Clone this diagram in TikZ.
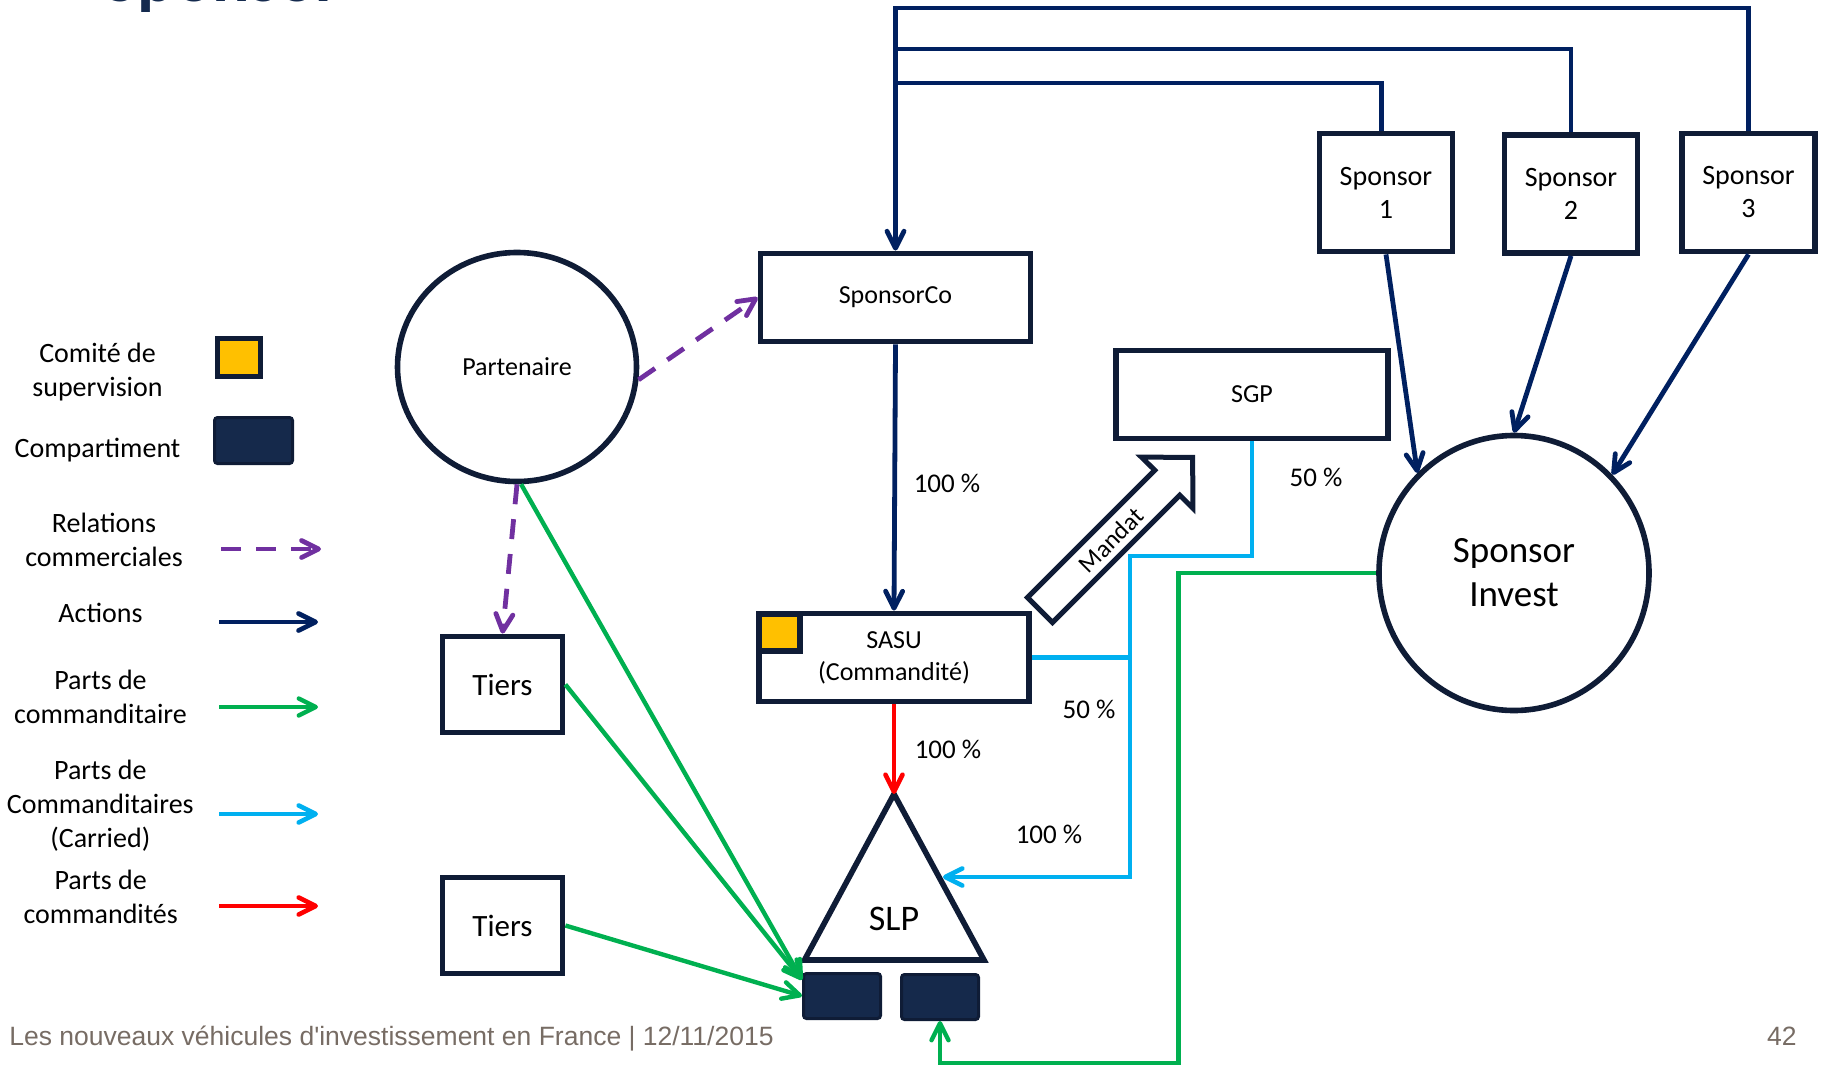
\documentclass[tikz,border=0pt]{standalone}
\usepackage{fontspec}
\setmainfont{Carlito}
\newfontfamily\footfont{Liberation Sans}
\usepackage{tikz}
\usetikzlibrary{arrows.meta,shapes.geometric}

\definecolor{navy}{HTML}{002060}
\definecolor{dkline}{HTML}{0F1C36}
\definecolor{titlenavy}{HTML}{142A4E}
\definecolor{compfill}{HTML}{15294B}
\definecolor{comyellow}{HTML}{FFC000}
\definecolor{lpgreen}{HTML}{00B050}
\definecolor{carblue}{HTML}{00B0F0}
\definecolor{gpred}{HTML}{FF0000}
\definecolor{relpurple}{HTML}{7030A0}
\definecolor{footgray}{HTML}{776C64}

\begin{document}
\begin{tikzpicture}[x=0.5pt, y=-0.5pt, >={Straight Barb[length=8.5pt,width=8.5pt,round]}]
  % Styles
  \tikzstyle{box}=[draw=dkline, line width=2.9pt, inner sep=0pt, minimum width=135pt, minimum height=44pt, font=\fontsize{13}{16}\selectfont, align=center]
  \tikzstyle{spbox}=[box, minimum width=66.5pt, minimum height=59pt, font=\fontsize{14}{16.5}\selectfont]
  \tikzstyle{tiers}=[box, minimum width=60pt, minimum height=48pt, font=\fontsize{15.5}{18}\selectfont]
  \tikzstyle{bubble}=[ellipse, draw=dkline, line width=2.8pt, inner sep=0pt, align=center]
  \tikzstyle{comite}=[draw=dkline, fill=comyellow, line width=2.6pt, inner sep=0pt, minimum width=21.5pt, minimum height=19pt]
  \tikzstyle{compart}=[draw=dkline, fill=compfill, line width=1.5pt, rounded corners=1.5pt, inner sep=0pt, minimum width=38.5pt, minimum height=22.5pt]
  \tikzstyle{lab}=[font=\fontsize{13.5}{16}\selectfont]
  \tikzstyle{leg}=[font=\fontsize{14}{17}\selectfont, align=center]
  \tikzstyle{rel}=[->, relpurple, line width=2.4pt, dash pattern=on 10pt off 7.5pt]
  \tikzstyle{act}=[->, navy, line width=2.4pt]
  \tikzstyle{lp}=[->, lpgreen, line width=2.2pt]
  \tikzstyle{carried}=[->, carblue, line width=2.3pt]
  \tikzstyle{gp}=[->, gpred, line width=2.3pt]

  \useasboundingbox (0,0) rectangle (1826,1066);
  \clip (0,0) rectangle (1826,1066);

  % Slide title, cut by the top edge
  \node[anchor=base west, inner sep=0pt, text=titlenavy, font=\fontsize{35}{40}\selectfont\bfseries] (title) at (104,1) {Sponsor};

  % Legend
  \node[leg] (lg1) at (97.5,372) {Comité de\\supervision};
  \node[comite] (lgc) at (239,357.5) {};
  \node[leg] (lg2) at (97.5,450) {Compartiment};
  \node[compart, minimum width=39pt, minimum height=23pt] (lgk) at (253.5,440.5) {};
  \node[leg] (lg3) at (104,540) {Relations\\commerciales};
  \node[leg] (lg4) at (100.5,613) {Actions};
  \node[leg] (lg5) at (100.5,697) {Parts de\\commanditaire};
  \node[leg] (lg6) at (100.3,806) {Parts de\\Commanditaires\\(Carried)};
  \node[leg] (lg7) at (100.7,897) {Parts de\\commandités};

  \coordinate (ls1) at (221,549); \coordinate (le1) at (321,549);
  \coordinate (ls2) at (219,622); \coordinate (le2) at (318,622);
  \coordinate (ls3) at (219,707); \coordinate (le3) at (318,707);
  \coordinate (ls4) at (219,814); \coordinate (le4) at (318,814);
  \coordinate (ls5) at (219,906); \coordinate (le5) at (318,906);
  \draw[rel] (ls1) -- (le1);
  \draw[act] (ls2) -- (le2);
  \draw[lp] (ls3) -- (le3);
  \draw[carried] (ls4) -- (le4);
  \draw[gp] (ls5) -- (le5);

  % Entities
  \node[bubble, minimum width=119.5pt, minimum height=114.5pt, font=\fontsize{13}{16}\selectfont] (part) at (517,367) {Partenaire};
  \node[box] (sco) at (895.5,297.5) {SponsorCo};
  \node[box, minimum width=136pt] (sgp) at (1252,394.5) {SGP};
  \node[box] (sasu) at (894,657.5) {SASU\\(Commandité)};
  \node[comite, minimum width=20.5pt, minimum height=18.5pt] (sasuc) at (779.5,632.5) {};

  \node[spbox] (s1) at (1386,192.5) {Sponsor\\1};
  \node[spbox] (s2) at (1571,194) {Sponsor\\2};
  \node[spbox] (s3) at (1748.5,192.5) {Sponsor\\3};
  \node[bubble, minimum width=135pt, minimum height=137.5pt, font=\fontsize{18.5}{22}\selectfont] (inv) at (1514,573) {Sponsor\\Invest};

  \node[tiers] (t1) at (502.5,684.5) {Tiers};
  \node[tiers] (t2) at (502.5,925.5) {Tiers};

  % SLP and its compartments
  \coordinate (slptop) at (894,794);
  \coordinate (slpbr) at (984,960);
  \coordinate (slpbl) at (804.5,960);
  \coordinate (slpr) at (943,877);
  \draw[dkline, line width=2.8pt] (slptop) -- (slpbr) -- (slpbl) -- cycle;
  \node[font=\fontsize{18}{21}\selectfont] (slp) at (894,919) {SLP};
  \node[compart] (c1) at (842,996) {};
  \node[compart] (c2) at (940,997) {};

  % Mandat
  \draw[dkline, line width=2.5pt, fill=white] (1052.5,622.5) -- (1027.5,597.5) -- (1154.8,470.2) -- (1141.5,457.2)
    -- (1192.7,457.3) -- (1192.8,508.2) -- (1179.8,495.2) -- cycle;
  \node[rotate=45, font=\fontsize{12.5}{15}\selectfont] (mandat) at (1111,540) {Mandat};

  % Relations commerciales
  \draw[rel] (part.-6) -- (sco.west);
  \draw[rel] (part.south) -- (t1.north);

  % Actions
  \coordinate (j1) at (895.5,83);
  \coordinate (j2) at (895.5,49);
  \coordinate (j3) at (895.5,8);
  \draw[act] (s3.north) |- (j3) -- (sco.north);
  \draw[act, -] (s2.north) |- (j2);
  \draw[act, -] (s1.94) |- (j1);
  \draw[act] (sco.south) -- (sasu.north);
  \draw[act] (s1.south) -- (inv.134);
  \draw[act] (s2.south) -- (inv.north);
  \draw[act] (s3.south) -- (inv.45);

  % Parts de commandites
  \draw[gp] (sasu.south) -- (slptop);

  % Parts de commanditaires (carried)
  \coordinate (bm) at (1130,556);
  \coordinate (bj) at (1130,877);
  \draw[carried] (sgp.south) |- (bm) -- (bj) -- (slpr);
  \draw[carried, -] (sasu.east) -- (sasu.east -| bj);

  % Parts de commanditaire
  \draw[lp] (part.-88) -- (c1.158);
  \draw[lp] (t1.east) -- (c1.158);
  \draw[lp] (t2.east) -- (c1.west);
  \coordinate (gb) at (1178.5,1063);
  \draw[lp] (inv.west) -| (gb) -| (c2.south);

  % Percentages
  \node[lab] (p1) at (947,483) {100 \%};
  \node[lab] (p2) at (948,749) {100 \%};
  \node[lab] (p3) at (1316,477) {50 \%};
  \node[lab] (p4) at (1089,709) {50 \%};
  \node[lab] (p5) at (1049,834) {100 \%};

  % Footer
  \node[anchor=base west, inner sep=0pt, text=footgray, font=\footfont\fontsize{13.25}{16}\selectfont] (foot) at (9,1045) {Les nouveaux véhicules d'investissement en France | 12/11/2015};
  \node[anchor=base east, inner sep=0pt, text=footgray, font=\footfont\fontsize{13.25}{16}\selectfont] (page) at (1797,1045) {42};
\end{tikzpicture}
\end{document}
